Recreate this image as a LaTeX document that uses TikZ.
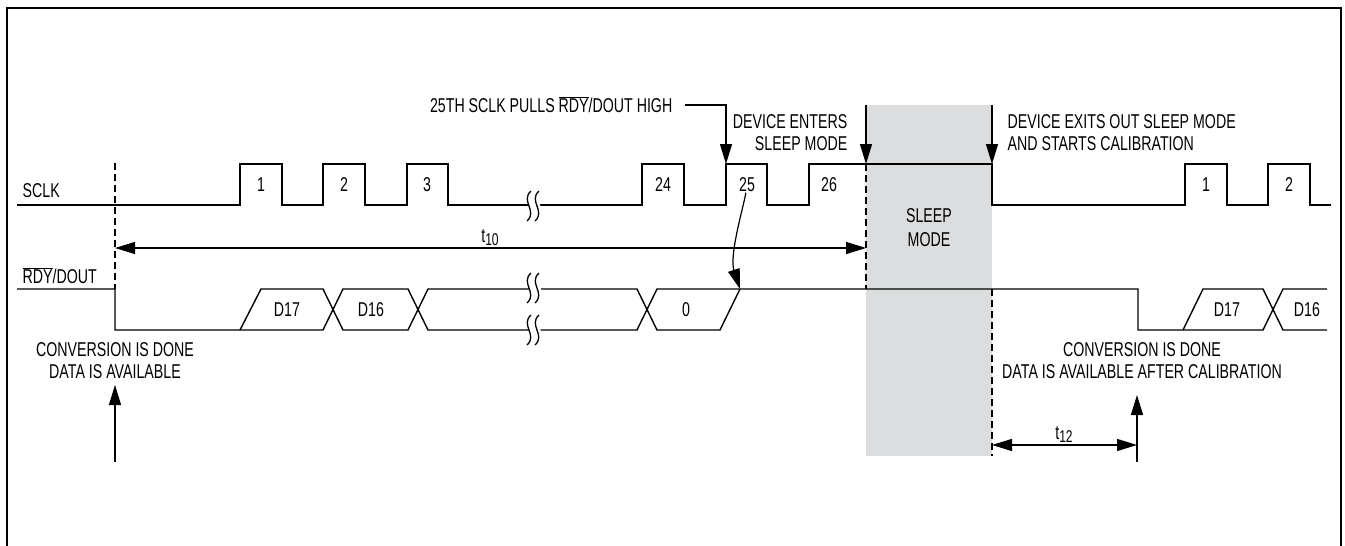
\documentclass[tikz,border=0pt]{standalone}
\usepackage{fontspec}
\setmainfont{Liberation Sans}[FakeStretch=0.71]
\usetikzlibrary{arrows.meta}
\definecolor{sleepgray}{HTML}{DCDDDF}
\newcommand\ovl[1]{$\overline{\mbox{#1}}$}
\tikzset{
  brk/.pic={
    \fill[white] (-2,-15) .. controls (-13,-5) and (5,5) .. (-6,15) -- (6,15) .. controls (17,5) and (-1,-5) .. (6,-15) -- cycle;
    \draw[line width=1.3pt] (-2,-15) .. controls (-13,-5) and (5,5) .. (-6,15);
    \draw[line width=1.3pt] (6,-15) .. controls (-5,-5) and (13,5) .. (2,15);
  }
}
\begin{document}
\begin{tikzpicture}[x=1pt,y=-1pt,line width=1.4pt,
  lbl/.style={inner sep=0pt,font=\fontsize{20}{22}\selectfont},
  ar/.style={-{Triangle[length=20pt,width=12pt]}},
  dar/.style={{Triangle[length=20pt,width=12pt]}-{Triangle[length=20pt,width=12pt]}},
  dsh/.style={line width=1.1pt,dash pattern=on 7pt off 4pt},
  sig/.style={line width=1.4pt,line join=miter}]
\useasboundingbox (0,0) rectangle (1345,546);
% frame
\draw[line width=2pt] (7,546) -- (7,8) -- (1341,8) -- (1341,546);
% sleep region
\fill[sleepgray] (866,105) rectangle (992,456);
% named points
\coordinate (dL) at (115,163);
\coordinate (dLb) at (115,289);
\coordinate (p25) at (726,164);
\coordinate (l25) at (685,105);
\coordinate (sInT) at (866,105);
\coordinate (sIn) at (866,164);
\coordinate (sInB) at (866,289);
\coordinate (sOutT) at (992,105);
\coordinate (sOut) at (992,164);
\coordinate (sOutR) at (992,289);
\coordinate (sOutB) at (992,456);
\coordinate (c25) at (726,192);
\coordinate (r0) at (740,289);
\coordinate (t10L) at (115,248);
\coordinate (t10R) at (866,248);
\coordinate (t12L) at (992,445);
\coordinate (t12R) at (1137,445);
\coordinate (cvL0) at (115,462);
\coordinate (cvL1) at (115,385);
\coordinate (cvR0) at (1137,462);
\coordinate (cvR1) at (1137,395);
% SCLK waveform
\draw[sig] (17,205) -- (240,205) -- (240,164) -- (282,164) -- (282,205) -- (323,205) -- (323,164) -- (365,164) -- (365,205)
  -- (407,205) -- (407,164) -- (448,164) -- (448,205) -- (642,205) -- (642,164) -- (684,164) -- (684,205)
  -- (726,205) -- (726,164) -- (767,164) -- (767,205) -- (809,205) -- (809,164) -- (992,164) -- (992,205)
  -- (1185,205) -- (1185,164) -- (1227,164) -- (1227,205) -- (1268,205) -- (1268,164) -- (1310,164) -- (1310,205) -- (1331,205);
% RDY/DOUT waveform
\draw[sig] (17,289) -- (115,289) -- (115,330) -- (323,330) -- (343,289) -- (408,289) -- (428,330) -- (637,330) -- (657,289) -- (1138,289) -- (1138,330) -- (1183,330) -- (1203,289) -- (1263,289) -- (1283,330) -- (1327,330);
\draw[sig] (240,330) -- (261,289) -- (323,289) -- (343,330) -- (408,330) -- (428,289) -- (637,289) -- (657,330) -- (720,330) -- (740,289);
\draw[sig] (1183,330) -- (1263,330) -- (1283,289) -- (1327,289);
% breaks
\pic at (533,206) {brk};
\pic at (533,288) {brk};
\pic at (533,330) {brk};
% dashed lines
\draw[dsh] (dL) -- (dLb);
\draw[dsh] (sIn) -- (sInB);
\draw[dsh] (sOutR) -- (sOutB);
% labels
\node[lbl,anchor=base west] (sclk) at (22,197) {SCLK};
\node[lbl,anchor=base west] (rdy) at (22,283) {\ovl{RDY}/DOUT};
\node[lbl] (c1) at (261,185) {1};
\node[lbl] (c2) at (344,185) {2};
\node[lbl] (c3) at (427,185) {3};
\node[lbl] (c24) at (663,185) {24};
\node[lbl] (c25) at (747,185) {25};
\node[lbl] (c26) at (829,185) {26};
\node[lbl] (c1b) at (1206,185) {1};
\node[lbl] (c2b) at (1289,185) {2};
\node[lbl] (d17) at (287,310) {D17};
\node[lbl] (d16) at (371,310) {D16};
\node[lbl] (d0) at (686,310) {0};
\node[lbl] (d17b) at (1227,310) {D17};
\node[lbl] (d16b) at (1307,310) {D16};
\node[lbl,anchor=base east] (n25) at (673,112) {25TH SCLK PULLS \ovl{RDY}/DOUT HIGH};
\node[lbl,anchor=north east,align=right] (nin) at (848,114) {DEVICE ENTERS\\SLEEP MODE};
\node[lbl,anchor=north west,align=left] (nout) at (1007,114) {DEVICE EXITS OUT SLEEP MODE\\AND STARTS CALIBRATION};
\node[lbl,anchor=north,align=center,font=\fontsize{20}{24}\selectfont] (nsl) at (929,208) {SLEEP\\MODE};
\node[lbl,anchor=north,align=center] (cvl) at (115,342) {CONVERSION IS DONE\\DATA IS AVAILABLE};
\node[lbl,anchor=north,align=center] (cvr) at (1142,342) {CONVERSION IS DONE\\DATA IS AVAILABLE AFTER CALIBRATION};
\node[lbl,anchor=base] (t10) at (490,242) {t\raisebox{-3pt}{\fontsize{17}{17}\selectfont 10}};
\node[lbl,anchor=base] (t12) at (1064,439) {t\raisebox{-3pt}{\fontsize{17}{17}\selectfont 12}};
% arrows
\draw[ar] (l25) -| (p25);
\draw[ar] (sInT) -- (sIn);
\draw[ar] (sOutT) -- (sOut);
\draw[ar,line width=1.2pt] (c25) .. controls (744,205) and (729,255) .. (r0);
\draw[dar] (t10L) -- (t10R);
\draw[dar] (t12L) -- (t12R);
\draw[ar] (cvL0) -- (cvL1);
\draw[ar] (cvR0) -- (cvR1);
\end{tikzpicture}
\end{document}
